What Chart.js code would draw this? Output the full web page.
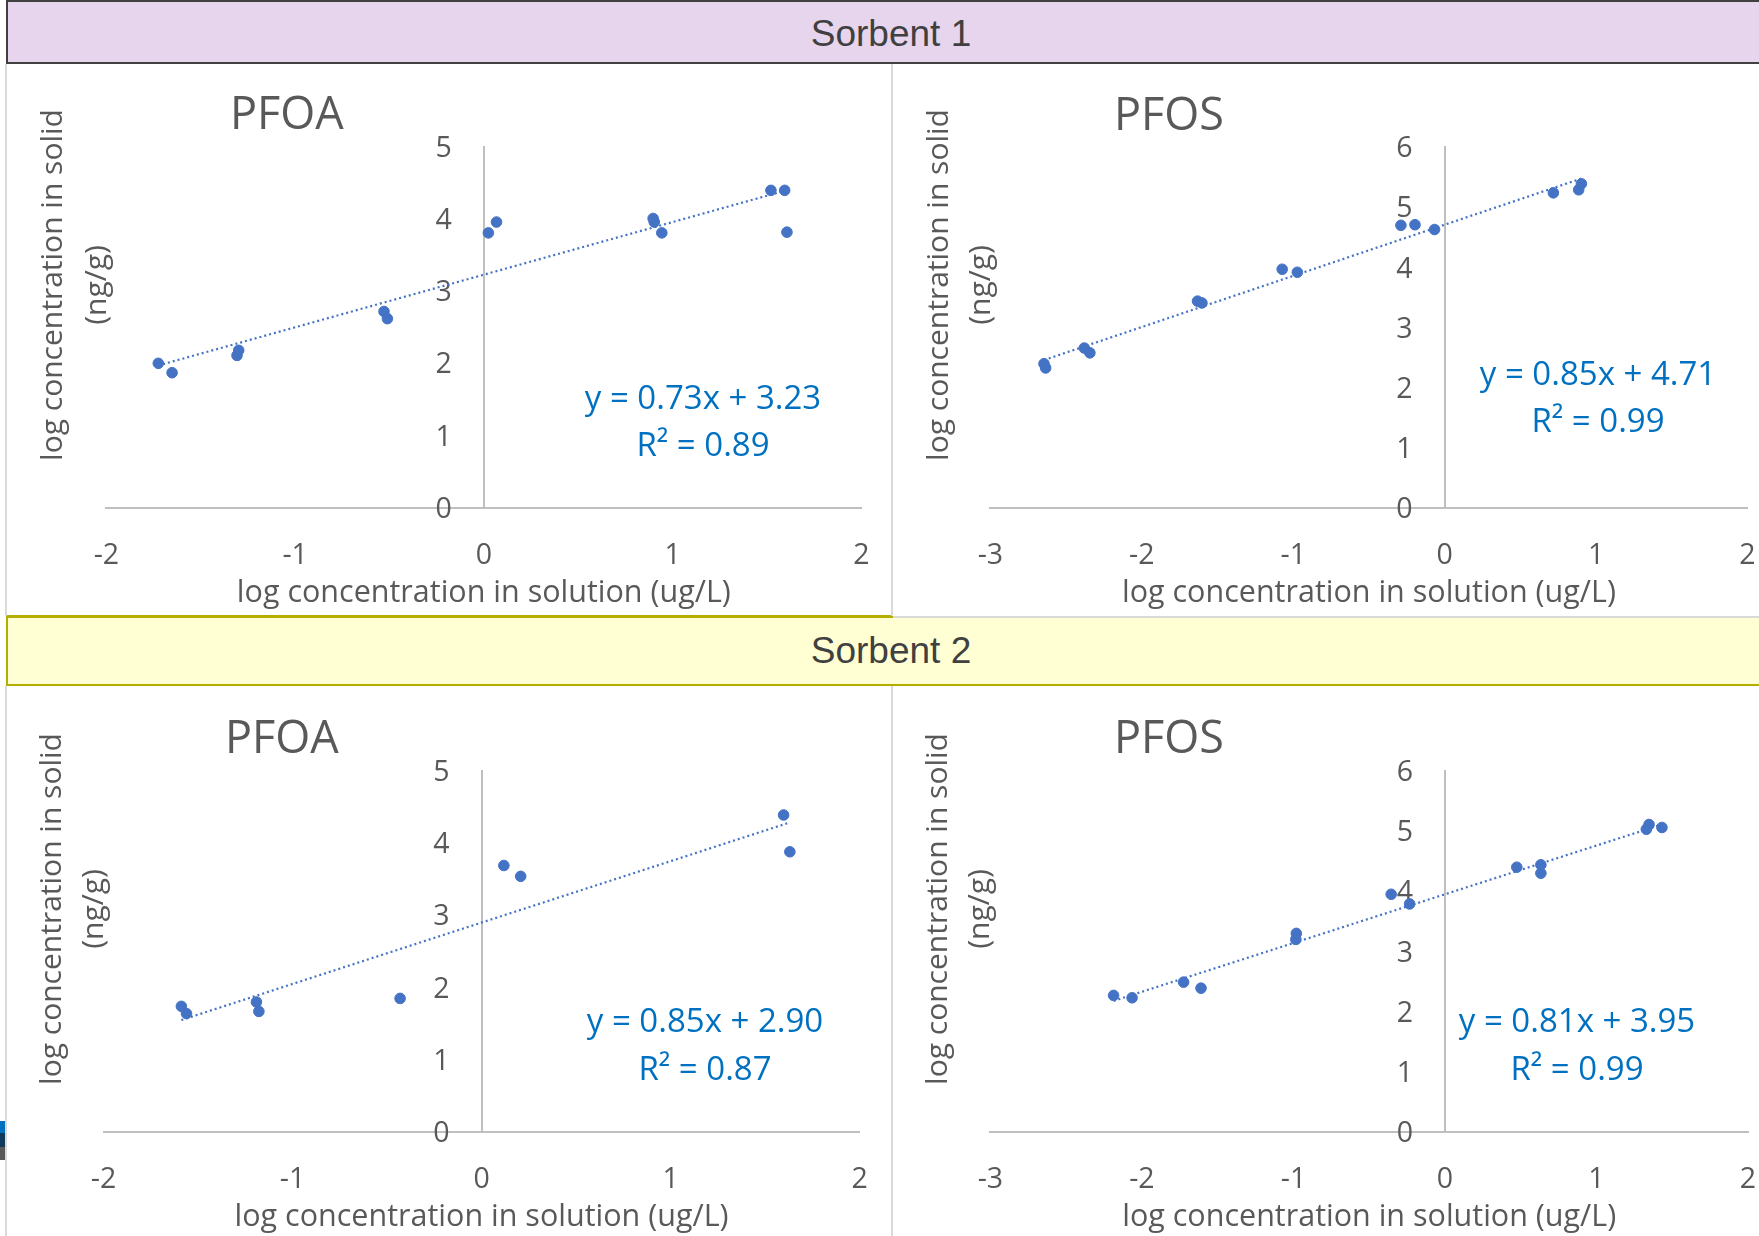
<!DOCTYPE html>
<html>
<head>
<meta charset="UTF-8">
<title>Sorbent 1 / Sorbent 2 - PFOA, PFOS</title>
<script src="https://cdn.jsdelivr.net/npm/chart.js"></script>
<style>
  body {
      margin: 0;
      width: 1759px;
      height: 1236px;
      position: relative;
      overflow: hidden;
      background: #fff;
      font-family: 'Liberation Sans', Arial, sans-serif;
  }
  .band {
      position: absolute;
      left: 6px;
      width: 1770px;
      box-sizing: border-box;
      text-align: center;
      color: #404040;
      font-size: 37px;
  }
  #band1 { top: 0; height: 64px; line-height: 64px; background: #E7D5EE; border: 2px solid #404040; }
  #band2 { top: 616px; height: 70px; line-height: 66px; background: #FFFFD3;
           border: 2.5px solid #B5AD00; border-top: 2px solid #D9D9D9; }
  #band2top { position: absolute; left: 6px; top: 615px; width: 887px; height: 2.5px; background: #B5AD00; }
  .rule { position: absolute; width: 2px; background: #D9D9D9; }
  .panel { position: absolute; }
  .mark { position: absolute; left: 0; width: 5px; }
</style>
</head>
<body>
  <div class="band" id="band1">Sorbent 1</div>
  <div class="band" id="band2">Sorbent 2</div>
  <div id="band2top"></div>

  <div class="rule" style="left:5px; top:64px; height:552px"></div>
  <div class="rule" style="left:891px; top:64px; height:552px"></div>
  <div class="rule" style="left:5px; top:686px; height:550px"></div>
  <div class="rule" style="left:891px; top:686px; height:550px"></div>

  <div class="mark" style="top:1121px; height:12px; background:#0070C0"></div>
  <div class="mark" style="top:1133px; height:14px; background:#0F3A5A"></div>
  <div class="mark" style="top:1147px; height:13px; background:#585858"></div>

  <canvas class="panel" id="s1pfoa" width="884" height="552" style="left:8px; top:64px"></canvas>
  <canvas class="panel" id="s1pfos" width="866" height="552" style="left:893px; top:64px"></canvas>
  <canvas class="panel" id="s2pfoa" width="884" height="549" style="left:8px; top:687px"></canvas>
  <canvas class="panel" id="s2pfos" width="866" height="549" style="left:893px; top:687px"></canvas>

<script>
// ---- data (log units) ----
const s1PfoaX = [-1.725, -1.652, -1.308, -1.299, -0.529, -0.511, 0.024, 0.067, 0.897, 0.903, 0.943, 1.521, 1.594, 1.606];
const s1PfoaY = [2.00, 1.87, 2.11, 2.18, 2.72, 2.62, 3.81, 3.96, 4.01, 3.96, 3.81, 4.40, 4.40, 3.82];

const s1PfosX = [-2.646, -2.635, -2.380, -2.343, -1.632, -1.603, -1.073, -0.973, -0.289, -0.196, -0.067, 0.718, 0.885, 0.903];
const s1PfosY = [2.40, 2.33, 2.66, 2.58, 3.44, 3.41, 3.97, 3.92, 4.70, 4.71, 4.63, 5.24, 5.29, 5.39];

const s2PfoaX = [-1.588, -1.561, -1.191, -1.178, -0.431, 0.118, 0.207, 1.598, 1.631];
const s2PfoaY = [1.74, 1.64, 1.80, 1.67, 1.85, 3.69, 3.54, 4.39, 3.88];

const s2PfosX = [-2.187, -2.065, -1.725, -1.610, -0.981, -0.984, -0.355, -0.233, 0.474, 0.633, 0.633, 1.329, 1.347, 1.432];
const s2PfosY = [2.27, 2.23, 2.49, 2.39, 3.30, 3.20, 3.95, 3.79, 4.40, 4.44, 4.30, 5.03, 5.11, 5.06];

// linear trendlines as printed on the charts
const slopes     = [0.73, 0.85, 0.85, 0.81];
const intercepts = [3.23, 4.71, 2.90, 3.95];
const rSquared   = [0.89, 0.99, 0.87, 0.99];

const chartTitles = ['PFOA', 'PFOS', 'PFOA', 'PFOS'];
const xMins = [-2, -3, -2, -3];
const xMaxs = [2, 2, 2, 2];
const yMaxs = [5, 6, 5, 6];
const xTitle = 'log concentration in solution (ug/L)';
const yTitle = ['log concentration in solid', '(ng/g)'];

// ---- layout (pixels inside each canvas) ----
const panels = [
    { id: 's1pfoa', xs: s1PfoaX, ys: s1PfoaY, plot: { l: 98.4, r: 30.7, t: 83.1, b: 443.5 },
      title: { x: 222, y: 52 }, eq: { x: 695, y: 336, dy: 47 }, yt: { x1: 45, x2: 89, y: 221 } },
    { id: 's1pfos', xs: s1PfosX, ys: s1PfosY, plot: { l: 97.4, r: 11.5, t: 83.1, b: 444.1 },
      title: { x: 221, y: 53 }, eq: { x: 705, y: 312, dy: 47 }, yt: { x1: 46, x2: 88, y: 221 } },
    { id: 's2pfoa', xs: s2PfoaX, ys: s2PfoaY, plot: { l: 95.5, r: 32.4, t: 83.9, b: 445.2 },
      title: { x: 217, y: 53 }, eq: { x: 697, y: 336, dy: 48 }, yt: { x1: 44, x2: 86, y: 222 } },
    { id: 's2pfos', xs: s2PfosX, ys: s2PfosY, plot: { l: 97.4, r: 11, t: 83.9, b: 445.2 },
      title: { x: 221, y: 53 }, eq: { x: 684, y: 336, dy: 48 }, yt: { x1: 45, x2: 87, y: 222 } }
];

const FONT = "'Open Sans', 'Noto Sans', sans-serif";
const GREY = '#595959';
const BLUE = '#4472C4';
const X_AXIS_H = 104;
const Y_LABEL_GAP = 32;

// titles, rotated y title and the trendline equation
const panelText = {
    id: 'panelText',
    afterDraw(chart, args, o) {
        const ctx = chart.ctx;
        ctx.save();
        ctx.fillStyle = GREY;
        ctx.textBaseline = 'middle';
        ctx.textAlign = 'left';
        ctx.font = '45px ' + FONT;
        ctx.fillText(o.title, o.pos.title.x, o.pos.title.y);

        ctx.font = '30px ' + FONT;
        ctx.textAlign = 'center';
        [o.pos.yt.x1, o.pos.yt.x2].forEach((x, i) => {
            ctx.save();
            ctx.translate(x, o.pos.yt.y);
            ctx.rotate(-Math.PI / 2);
            ctx.fillText(yTitle[i], 0, 0);
            ctx.restore();
        });

        ctx.fillStyle = '#0070C0';
        ctx.font = '33px ' + FONT;
        o.eq.forEach((line, i) => ctx.fillText(line, o.pos.eq.x, o.pos.eq.y + i * o.pos.eq.dy));
        ctx.restore();
    }
};

function makeChart(p, i) {
    const m = slopes[i], b = intercepts[i];
    const lo = Math.min(...p.xs), hi = Math.max(...p.xs);
    const points = p.xs.map((x, k) => ({ x: x, y: p.ys[k] }));
    const canvas = document.getElementById(p.id);
    // the value axis labels sit a fixed pixel gap left of x = 0
    const pxPerUnit = (canvas.width - p.plot.l - p.plot.r) / (xMaxs[i] - xMins[i]);
    const tickFont = { family: FONT, size: 28.5 };

    new Chart(canvas, {
        type: 'scatter',
        data: {
            datasets: [{
                data: points,
                backgroundColor: BLUE,
                borderColor: BLUE,
                borderWidth: 1,
                pointRadius: 5.3
            }, {
                type: 'line',
                data: [{ x: lo, y: m * lo + b }, { x: hi, y: m * hi + b }],
                borderColor: BLUE,
                borderWidth: 2.2,
                borderDash: [2, 3],
                pointRadius: 0,
                fill: false
            }]
        },
        options: {
            responsive: false,
            animation: false,
            events: [],
            layout: {
                padding: {
                    left: p.plot.l,
                    right: p.plot.r,
                    top: p.plot.t,
                    bottom: Math.max(0, canvas.height - p.plot.b - X_AXIS_H)
                }
            },
            plugins: {
                legend: { display: false },
                tooltip: { enabled: false },
                panelText: {
                    title: chartTitles[i],
                    eq: ['y = ' + m.toFixed(2) + 'x + ' + b.toFixed(2), 'R\u00B2 = ' + rSquared[i].toFixed(2)],
                    pos: p
                }
            },
            scales: {
                x: {
                    type: 'linear',
                    position: 'bottom',
                    min: xMins[i],
                    max: xMaxs[i],
                    afterFit(s) { s.height = X_AXIS_H; },
                    grid: { display: false, drawTicks: true, tickLength: 29 },
                    border: { color: '#BFBFBF', width: 2 },
                    ticks: { stepSize: 1, padding: 2, color: GREY, font: tickFont },
                    title: { display: true, text: xTitle, color: GREY, padding: { top: 0, bottom: 0 },
                             font: { family: FONT, size: 30.5 } }
                },
                y: {
                    type: 'linear',
                    position: { x: 0 },
                    min: 0,
                    max: yMaxs[i],
                    grid: { display: false, drawTicks: false },
                    border: { color: '#BFBFBF', width: 2 },
                    ticks: { display: false, stepSize: 1 }
                },
                yLabels: {
                    type: 'linear',
                    position: { x: -Y_LABEL_GAP / pxPerUnit },
                    min: 0,
                    max: yMaxs[i],
                    grid: { display: false, drawTicks: false },
                    border: { display: false },
                    ticks: { stepSize: 1, labelOffset: 2, color: GREY, font: tickFont }
                }
            }
        },
        plugins: [panelText]
    });
}

document.fonts.load("30px 'Open Sans'").catch(() => {}).then(() => panels.forEach(makeChart));
</script>
</body>
</html>
